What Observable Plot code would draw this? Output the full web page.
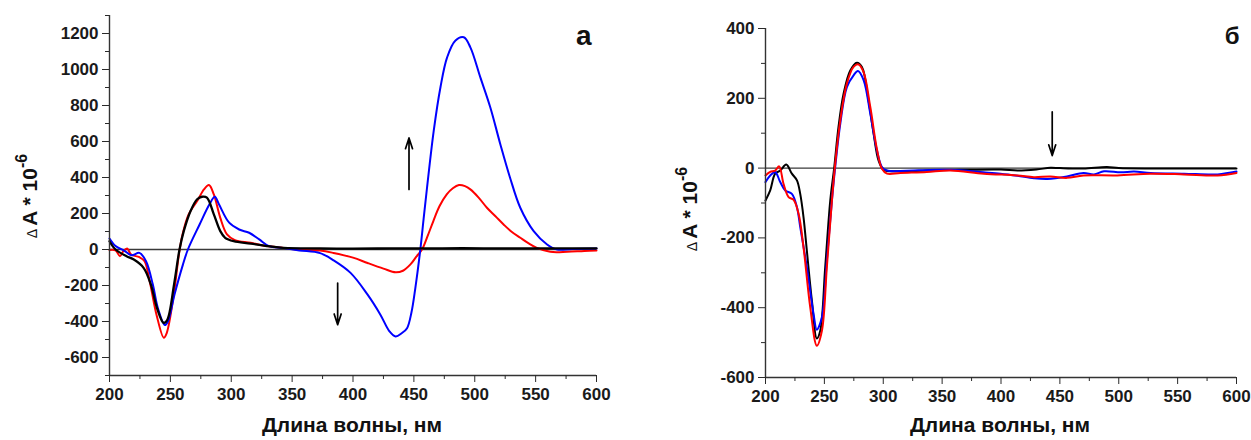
<!DOCTYPE html>
<html><head><meta charset="utf-8">
<script src="https://cdn.jsdelivr.net/npm/d3@7"></script>
<script src="https://cdn.jsdelivr.net/npm/@observablehq/plot@0.6"></script>
<style>
body{margin:0;background:#fff;}
#wrap{position:relative;width:1251px;height:440px;overflow:hidden;font-family:"Liberation Sans",Arial,sans-serif;}
#wrap svg{position:absolute;top:0;}
</style></head><body><div id="wrap"></div>
<script>
// ---------- Panel "а" ----------
const aBlackNm = [200,205,214,220,228,234,239,244.5,247.5,253,257.5,261,266.5,272,276,280,285.7,291,295,302,316,329,343,373,400,430,460,490,520,550,580,600];
const aBlackV  = [46,0,-37,-56,-102,-195,-325,-408,-390,-195,0,102,213,279,293,288,195,102,65,46,33,19,9,6,5,6,6,7,6,6,6,6];
const aRedNm = [200,205,208.6,211.4,214.5,217.8,224.6,228.8,233,238.6,244.6,247,252.8,257,260,265,272,277.6,281.7,285.7,291,296.5,303,316,329,343,357,373,384,400,412,425,435,441,447,452,456.7,461,466,471,477,482,487,492,496.4,503,510,517,523.7,530,537.4,544,551,562,576,590,600];
const aRedV  = [-3,-5,-37,-9,5,-28,-43,-65,-176,-362,-490,-464,-250,-28,84,195,269,334,358,306,176,84,52,37,19,9,-2,-6,-19,-45,-75,-106,-127,-118,-84,-40,0,70,158,240,306,340,358,352,334,290,232,185,139,100,65,35,9,-13,-13,-8,-6];
const aBlueNm = [200,205,212,218,224.6,230,235.6,239.7,245.5,248,253.4,260.3,264.4,274,282,286.5,290,298.3,306.5,314.7,323,331,342,356,373,384,398,412,422.5,430,435,440,444.4,448,451.2,455.3,458,460.8,466.3,471.8,477.3,484,491,496.4,504.6,512.8,521,529,537.4,548.4,559.4,567.6,580,600];
const aBlueV  = [61,19,-6,-32,-19,-65,-195,-325,-420,-400,-250,-84,0,139,250,293,250,149,111,93,56,19,9,-5,-20,-60,-130,-251,-362,-455,-483,-465,-437,-350,-214,0,170,343,659,900,1067,1160,1179,1123,956,789,585,399,232,102,28,0,3,5];
const aArrowX  = [446, 387.4];
const aArrowY1 = [334, -186];
const aArrowY2 = [620, -418];

// ---------- Panel "б" ----------
const bBlackNm = [200,204,208.2,212.5,217.6,222.4,226.7,229.5,232.3,235.1,239.4,243.6,246.5,250.7,255,258.4,262,266.3,272,277.6,281.9,287.5,291.8,296,300.3,308.8,337,365,400,414,430,442,450,470,490,500,530,560,600];
const bBlackV  = [-93,-64,-16,-7,10,-16,-35,-74,-141,-236,-380,-488,-466,-284,-93,3,118,213,280,302,290,194,99,22,-5,-9,-7,-5,-4,-7,-4,1,0,-1,3,0,-1,-1,-1];
const bBlueNm = [200,204,208.2,212.5,216.8,222.4,226.7,229.5,235.1,240.8,243.6,247.9,252.1,256.4,259.2,263.5,269.1,274.8,278.5,283.3,289,294.6,298.9,303.2,330,357,385,399.5,414,428,439.5,456,470,479,487.5,501.7,513,527,555.5,584,600];
const bBlueV  = [-40,-21,-11,-40,-64,-74,-112,-169,-284,-418,-463,-427,-265,-93,3,127,232,266,278,252,156,51,3,-7,-6,-5,-12,-16,-22,-29,-31,-24,-14,-18,-9,-12,-10,-14,-16,-18,-10];
const bRedNm = [200,204,208.2,211.6,215.3,219.6,223.9,228.1,232.3,238,243.6,247.9,252.1,256.4,259.2,263.5,269.1,274.8,279,283.3,289,294.6,298.9,303.2,314.5,337,357,385.4,413.8,428,442,456,470,498.8,527,555.5,584,600];
const bRedV  = [-21,-11,-7,5,-45,-83,-91,-131,-227,-399,-509,-466,-284,-93,12,137,242,290,297,275,175,55,-2,-16,-14,-11,-7,-16,-21,-26,-24,-28,-21,-21,-16,-18,-21,-14];
const bArrowX  = [443.5];
const bArrowY1 = [161];
const bArrowY2 = [36];

// ---------- Axes / labels ----------
const xTicks = [200,250,300,350,400,450,500,550,600];
const xMinor = [225,275,325,375,425,475,525,575];
const aYTicks = [-600,-400,-200,0,200,400,600,800,1000,1200];
const aYMinor = [-700,-500,-300,-100,100,300,500,700,900,1100,1300];
const bYTicks = [-600,-400,-200,0,200,400];
const bYMinor = [-500,-300,-100,100,300];
const xTitle = "Длина волны, нм";
const tagA = "а";
const tagB = "б";

const COLORS = {black:"#000000", red:"#ff0000", blue:"#0000ff"};

function rows(nm, v){ return nm.map((x,i)=>({nm:x, v:v[i]})); }
function arrowRows(xs, y1, y2){ return xs.map((x,i)=>({x, y1:y1[i], y2:y2[i]})); }

function panel(o){
  const svg = Plot.plot({
    width:o.width, height:440,
    marginLeft:o.mL, marginRight:o.mR, marginTop:o.mT, marginBottom:o.mB,
    x:{domain:[200,600]},
    y:{domain:o.yDomain},
    style:{fontFamily:'"Liberation Sans", Arial, sans-serif', fontWeight:"bold", fontSize:"17px", color:"#2a2a2a", background:"transparent", overflow:"visible"},
    marks:[
      Plot.ruleY([0],{stroke:"#3a3a3a",strokeWidth:1.3}),
      ...o.lines.map(l=>Plot.line(l.data,{x:"nm",y:"v",stroke:l.color,strokeWidth:l.w||2,curve:"catmull-rom"})),
      Plot.arrow(o.arrows,{x1:"x",y1:"y1",x2:"x",y2:"y2",stroke:"#000",strokeWidth:1.7,headLength:10,headAngle:36}),
      Plot.ruleX([200],{stroke:"#333",strokeWidth:1.4}),
      Plot.ruleY([o.yDomain[0]],{stroke:"#333",strokeWidth:1.4}),
      Plot.axisX({ticks:xTicks,tickSize:7,tickPadding:5,tickFormat:d=>String(d),label:null,fill:"#1a1a1a",fontSize:17}),
      Plot.axisX({ticks:xMinor,tickSize:4,tickFormat:()=>"",label:null}),
      Plot.axisY({ticks:o.yTicks,tickSize:7,tickPadding:4,tickFormat:d=>String(d),label:null,fill:"#1a1a1a",fontSize:17}),
      Plot.axisY({ticks:o.yMinor,tickSize:4,tickFormat:()=>"",label:null}),
      Plot.text([o.tag],{frameAnchor:"top-right",dx:o.tagDx,dy:o.tagDy,fontSize:o.tagSize,fontWeight:"bold",fill:"#111",textAnchor:"end",lineAnchor:"top"})
    ]
  });
  svg.style.left = o.left+"px";
  const s = d3.select(svg);
  // x title
  s.append("text").attr("x",o.xTitleX).attr("y",432).attr("text-anchor","middle")
    .attr("font-size",21).attr("font-weight","bold").attr("fill","#111").text(xTitle);
  // y title: Δ A * 10^-6
  const t = s.append("text").attr("transform",`translate(${o.yTitleX},${o.yTitleY}) rotate(-90)`)
    .attr("text-anchor","middle").attr("fill","#111").attr("font-weight","bold");
  t.append("tspan").attr("font-size",14).attr("font-weight","normal").text("Δ ");
  t.append("tspan").attr("font-size",21).text("A * 10");
  t.append("tspan").attr("font-size",16).attr("dy",-10).text("-6");
  document.getElementById("wrap").appendChild(svg);
}

panel({
  left:0, width:640, mL:109, mR:44, mT:15, mB:65,
  yDomain:[-700,1300], yTicks:aYTicks, yMinor:aYMinor,
  lines:[
    {data:rows(aRedNm,aRedV),color:COLORS.red},
    {data:rows(aBlueNm,aBlueV),color:COLORS.blue},
    {data:rows(aBlackNm,aBlackV),color:COLORS.black,w:2.3}
  ],
  arrows:arrowRows(aArrowX,aArrowY1,aArrowY2),
  tag:tagA, tagDx:-5, tagDy:10, tagSize:28,
  xTitleX:352, yTitleX:37, yTitleY:196
});

panel({
  left:640, width:611, mL:125, mR:15, mT:28, mB:63,
  yDomain:[-600,400], yTicks:bYTicks, yMinor:bYMinor,
  lines:[
    {data:rows(bBlackNm,bBlackV),color:COLORS.black},
    {data:rows(bBlueNm,bBlueV),color:COLORS.blue},
    {data:rows(bRedNm,bRedV),color:COLORS.red}
  ],
  arrows:arrowRows(bArrowX,bArrowY1,bArrowY2),
  tag:tagB, tagDx:3, tagDy:-2, tagSize:24,
  xTitleX:360, yTitleX:57, yTitleY:209
});
</script></body></html>
